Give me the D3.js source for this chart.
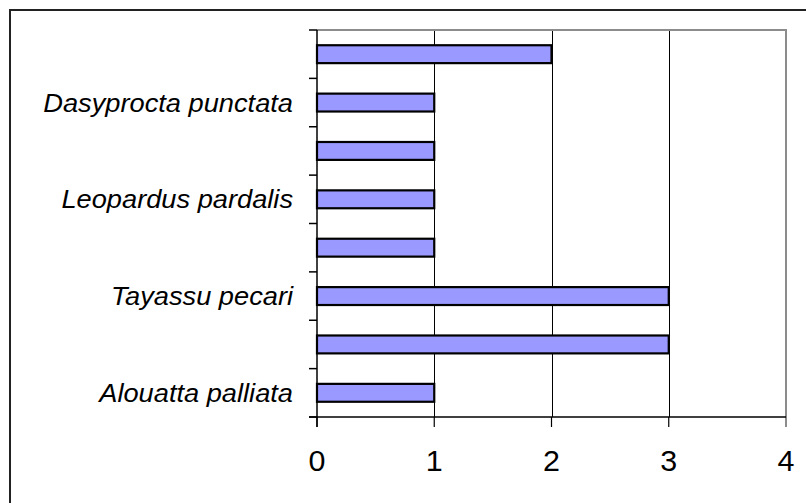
<!DOCTYPE html>
<html>
<head>
<meta charset="utf-8">
<script src="https://cdn.jsdelivr.net/npm/d3@7/dist/d3.min.js"></script>
<style>
  html, body { margin: 0; padding: 0; background: #fff; }
  svg { display: block; }
  text { font-family: "Liberation Sans", Arial, sans-serif; fill: #000; }
</style>
</head>
<body>
<svg id="chart" width="806" height="503"></svg>
<script>
// Species counts, listed from the bottom of the chart upward.
// Only every second category name is printed on the axis.
const categories = [
  "Alouatta palliata", "", "Tayassu pecari", "",
  "Leopardus pardalis", "", "Dasyprocta punctata", ""
];
const counts = [1, 3, 3, 1, 1, 1, 1, 2];
const xTicks = [0, 1, 2, 3, 4];

const svg = d3.select("#chart");
const plot = { left: 317, right: 786, top: 30, bottom: 417 };

// Outer frame (extends past the visible window on right and bottom)
svg.append("rect")
  .attr("x", 10).attr("y", 10)
  .attr("width", 820).attr("height", 520)
  .attr("fill", "#fff")
  .attr("stroke", "#222").attr("stroke-width", 2);

const x = d3.scaleLinear().domain([0, 4]).range([plot.left, plot.right]);
const idx = d3.range(categories.length);
// First category at the bottom
const y = d3.scaleBand().domain(idx)
  .range([plot.bottom, plot.top])
  .paddingInner(0.63).paddingOuter(0.315);
const step = y.step();

// Vertical gridlines
svg.append("g").selectAll("line")
  .data(xTicks.filter(t => t > 0 && t < 4))
  .join("line")
  .attr("x1", d => Math.round(x(d)) + 0.5).attr("x2", d => Math.round(x(d)) + 0.5)
  .attr("y1", plot.top).attr("y2", plot.bottom)
  .attr("stroke", "#000").attr("stroke-width", 1);

// Plot area border (top and right)
svg.append("path")
  .attr("d", `M${plot.left},${plot.top}H${plot.right}V${plot.bottom + 10}`)
  .attr("fill", "none").attr("stroke", "#8c8c8c").attr("stroke-width", 2);

// Bars
svg.append("g").selectAll("rect")
  .data(idx)
  .join("rect")
  .attr("x", x(0))
  .attr("y", i => y(i))
  .attr("width", i => x(counts[i]) - x(0))
  .attr("height", y.bandwidth())
  .attr("fill", "#9999ff")
  .attr("stroke", "#000").attr("stroke-width", 2.2);

// Category axis: ticks at band boundaries
const boundaries = d3.range(categories.length + 1)
  .map(k => plot.bottom - k * step);
const yAxis = svg.append("g");
yAxis.selectAll("line.tick")
  .data(boundaries)
  .join("line").attr("class", "tick")
  .attr("x1", plot.left - 8).attr("x2", plot.left)
  .attr("y1", d => d).attr("y2", d => d)
  .attr("stroke", "#000").attr("stroke-width", 1.5);
yAxis.append("line")
  .attr("x1", plot.left).attr("x2", plot.left)
  .attr("y1", plot.top).attr("y2", plot.bottom + 10)
  .attr("stroke", "#000").attr("stroke-width", 1.5);
// Labels are drawn slightly widened, anchored at their right edge
yAxis.selectAll("text")
  .data(idx.filter(i => categories[i] !== ""))
  .join("text")
  .attr("transform", i => `translate(293,${y(i) + y.bandwidth() / 2}) scale(1.09,1)`)
  .attr("dy", "0.36em")
  .attr("text-anchor", "end")
  .attr("font-style", "italic")
  .attr("font-size", 25)
  .text(i => categories[i]);

// Value axis
const xAxis = svg.append("g");
xAxis.append("line")
  .attr("x1", plot.left - 8).attr("x2", plot.right)
  .attr("y1", plot.bottom).attr("y2", plot.bottom)
  .attr("stroke", "#000").attr("stroke-width", 1.5);
xAxis.selectAll("line.tick")
  .data(xTicks.filter(t => t < 4))
  .join("line").attr("class", "tick")
  .attr("x1", d => x(d)).attr("x2", d => x(d))
  .attr("y1", plot.bottom).attr("y2", plot.bottom + 10)
  .attr("stroke", "#000").attr("stroke-width", 1.2);
xAxis.selectAll("text")
  .data(xTicks)
  .join("text")
  .attr("transform", d => `translate(${x(d)},${plot.bottom + 54}) scale(1.05,1)`)
  .attr("text-anchor", "middle")
  .attr("font-size", 29)
  .text(d => d);
</script>
</body>
</html>
